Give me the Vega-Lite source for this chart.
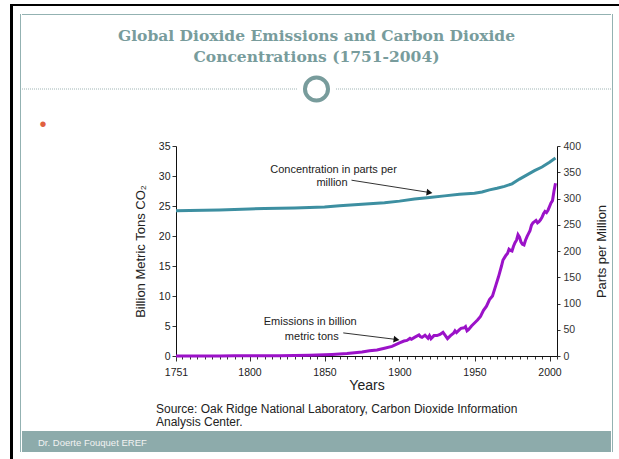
{
  "$schema": "https://vega.github.io/schema/vega-lite/v6.json",
  "background": "white",
  "padding": {"left": 10, "top": 4, "right": 0, "bottom": 0},
  "config": {"view": {"stroke": null}, "font": "Liberation Sans"},
  "datasets": {
    "blank": [{}],
    "emissions": [
      {"year": 1751, "value": 0.01}, {"year": 1760, "value": 0.01}, {"year": 1770, "value": 0.015},
      {"year": 1780, "value": 0.02}, {"year": 1790, "value": 0.025}, {"year": 1800, "value": 0.03},
      {"year": 1810, "value": 0.04}, {"year": 1820, "value": 0.05}, {"year": 1830, "value": 0.09},
      {"year": 1840, "value": 0.13}, {"year": 1850, "value": 0.2}, {"year": 1855, "value": 0.26},
      {"year": 1860, "value": 0.33}, {"year": 1865, "value": 0.42}, {"year": 1870, "value": 0.54},
      {"year": 1875, "value": 0.68}, {"year": 1880, "value": 0.86}, {"year": 1885, "value": 1.0},
      {"year": 1890, "value": 1.3}, {"year": 1895, "value": 1.6}, {"year": 1900, "value": 2.2},
      {"year": 1903, "value": 2.5}, {"year": 1905, "value": 2.6}, {"year": 1907, "value": 2.95},
      {"year": 1908, "value": 2.8}, {"year": 1910, "value": 3.1}, {"year": 1913, "value": 3.5},
      {"year": 1914, "value": 3.2}, {"year": 1915, "value": 3.1}, {"year": 1917, "value": 3.45},
      {"year": 1919, "value": 2.95}, {"year": 1920, "value": 3.4}, {"year": 1921, "value": 2.9},
      {"year": 1923, "value": 3.4}, {"year": 1925, "value": 3.4}, {"year": 1927, "value": 3.6},
      {"year": 1929, "value": 3.95}, {"year": 1930, "value": 3.6}, {"year": 1932, "value": 2.9},
      {"year": 1934, "value": 3.4}, {"year": 1936, "value": 3.8}, {"year": 1937, "value": 4.2},
      {"year": 1938, "value": 3.9}, {"year": 1940, "value": 4.4}, {"year": 1941, "value": 4.6},
      {"year": 1943, "value": 4.7}, {"year": 1944, "value": 4.9}, {"year": 1945, "value": 4.2},
      {"year": 1946, "value": 4.4}, {"year": 1948, "value": 5.0}, {"year": 1950, "value": 5.5},
      {"year": 1952, "value": 6.0}, {"year": 1954, "value": 6.6}, {"year": 1956, "value": 7.6},
      {"year": 1958, "value": 8.3}, {"year": 1960, "value": 9.4}, {"year": 1962, "value": 10.0},
      {"year": 1964, "value": 11.6}, {"year": 1966, "value": 13.2}, {"year": 1968, "value": 15.0},
      {"year": 1969, "value": 16.0}, {"year": 1970, "value": 16.4}, {"year": 1971, "value": 16.8},
      {"year": 1972, "value": 17.1}, {"year": 1973, "value": 17.8}, {"year": 1974, "value": 17.6},
      {"year": 1975, "value": 17.5}, {"year": 1976, "value": 18.3}, {"year": 1977, "value": 18.9},
      {"year": 1978, "value": 19.3}, {"year": 1979, "value": 20.2}, {"year": 1980, "value": 19.8},
      {"year": 1981, "value": 19.0}, {"year": 1982, "value": 18.6}, {"year": 1983, "value": 18.5},
      {"year": 1984, "value": 19.3}, {"year": 1985, "value": 19.9}, {"year": 1986, "value": 20.4},
      {"year": 1987, "value": 20.9}, {"year": 1988, "value": 21.8}, {"year": 1989, "value": 22.2},
      {"year": 1990, "value": 22.4}, {"year": 1991, "value": 22.6}, {"year": 1992, "value": 22.2},
      {"year": 1993, "value": 22.4}, {"year": 1994, "value": 22.7}, {"year": 1995, "value": 23.1},
      {"year": 1996, "value": 23.7}, {"year": 1997, "value": 24.1}, {"year": 1998, "value": 23.9},
      {"year": 1999, "value": 24.3}, {"year": 2000, "value": 24.9}, {"year": 2001, "value": 25.5},
      {"year": 2002, "value": 25.9}, {"year": 2003, "value": 27.5}, {"year": 2004, "value": 28.8}
    ],
    "concentration": [
      {"year": 1751, "ppm": 276.5}, {"year": 1760, "ppm": 277}, {"year": 1770, "ppm": 277.5}, {"year": 1780, "ppm": 278},
      {"year": 1790, "ppm": 279}, {"year": 1800, "ppm": 280}, {"year": 1810, "ppm": 281}, {"year": 1820, "ppm": 281.5},
      {"year": 1830, "ppm": 282}, {"year": 1840, "ppm": 283}, {"year": 1850, "ppm": 284}, {"year": 1860, "ppm": 286},
      {"year": 1870, "ppm": 288}, {"year": 1880, "ppm": 290}, {"year": 1890, "ppm": 292}, {"year": 1900, "ppm": 295},
      {"year": 1910, "ppm": 299}, {"year": 1920, "ppm": 302}, {"year": 1930, "ppm": 305}, {"year": 1940, "ppm": 308},
      {"year": 1950, "ppm": 310}, {"year": 1955, "ppm": 312.5}, {"year": 1960, "ppm": 316.5}, {"year": 1965, "ppm": 319.5},
      {"year": 1970, "ppm": 323}, {"year": 1975, "ppm": 328}, {"year": 1980, "ppm": 337}, {"year": 1985, "ppm": 345},
      {"year": 1990, "ppm": 353}, {"year": 1995, "ppm": 360}, {"year": 2000, "ppm": 369}, {"year": 2004, "ppm": 377}
    ],
    "annotations": [
      {"year": 1856, "value": 31.0, "text": "Concentration in parts per"},
      {"year": 1855, "value": 28.8, "text": "million"},
      {"year": 1840.5, "value": 5.7, "text": "Emissions in billion"},
      {"year": 1841.5, "value": 3.2, "text": "metric tons"}
    ],
    "arrows": [
      {"year": 1868, "value": 29.3, "year2": 1920, "value2": 27.25},
      {"year": 1862.5, "value": 3.85, "year2": 1898, "value2": 2.75}
    ],
    "arrowheads": [
      {"year": 1920, "value": 27.25},
      {"year": 1898, "value": 2.75}
    ]
  },
  "spacing": 0,
  "vconcat": [
    {
      "width": 609, "height": 2,
      "data": {"name": "blank"},
      "mark": {"type": "point", "opacity": 0, "size": 0},
      "encoding": {},
      "view": {"fill": "black", "stroke": null}
    },
    {
      "spacing": 7,
      "hconcat": [
        {
          "width": 3, "height": 453,
          "data": {"name": "blank"},
          "mark": {"type": "point", "opacity": 0, "size": 0},
          "encoding": {},
          "view": {"fill": "black", "stroke": null}
        },
        {
          "spacing": 0,
          "vconcat": [
            {
              "width": 1, "height": 8,
              "data": {"name": "blank"},
              "mark": {"type": "point", "opacity": 0, "size": 0},
              "encoding": {}
            },
            {
              "spacing": 0,
              "hconcat": [
                {
                  "width": 1, "height": 438,
                  "data": {"name": "blank"},
                  "mark": {"type": "point", "opacity": 0, "size": 0},
                  "encoding": {},
                  "view": {"fill": "#93B2B2", "stroke": null}
                },
                {
                  "spacing": 0,
                  "vconcat": [
                    {
                      "width": 589, "height": 1,
                      "data": {"name": "blank"},
                      "mark": {"type": "point", "opacity": 0, "size": 0},
                      "encoding": {},
                      "view": {"fill": "#93B2B2", "stroke": null}
                    },
                    {
                      "width": 1, "height": 13,
                      "data": {"name": "blank"},
                      "mark": {"type": "point", "opacity": 0, "size": 0},
                      "encoding": {}
                    },
                    {
                      "width": 589, "height": 26,
                      "title": {
                        "text": ["Global Dioxide Emissions and Carbon Dioxide", "Concentrations (1751-2004)"],
                        "font": "DejaVu Serif", "fontSize": 15.5, "fontWeight": "bold",
                        "color": "#789C9C", "lineHeight": 21, "anchor": "middle", "frame": "group", "offset": 4
                      },
                      "data": {"name": "blank"},
                      "layer": [
                        {
                          "mark": {"type": "rule", "color": "#9FB4B4", "strokeDash": [1, 1], "strokeWidth": 1},
                          "encoding": {"y": {"datum": 0, "type": "quantitative", "scale": {"domain": [-1, 1]}, "axis": null}}
                        },
                        {
                          "mark": {"type": "point", "shape": "circle", "size": 1400, "filled": true, "fill": "white", "strokeWidth": 0, "opacity": 1},
                          "encoding": {"y": {"datum": 0, "type": "quantitative"}}
                        },
                        {
                          "mark": {"type": "point", "shape": "circle", "size": 531, "filled": true, "fill": "white", "stroke": "#789C9C", "strokeWidth": 4, "opacity": 1},
                          "encoding": {"y": {"datum": 0, "type": "quantitative"}}
                        }
                      ]
                    },
                    {
                      "width": 1, "height": 4.7,
                      "data": {"name": "blank"},
                      "mark": {"type": "point", "opacity": 0, "size": 0},
                      "encoding": {}
                    },
                    {
                      "spacing": 0,
                      "hconcat": [
                        {
                          "width": 111.5, "height": 210,
                          "data": {"name": "blank"},
                          "mark": {"type": "point", "opacity": 0, "size": 0},
                          "encoding": {},
                          "title": {"text": "•", "fontSize": 20, "color": "#E0603F", "anchor": "start", "frame": "group", "dx": 17.5, "offset": 11.5, "font": "Liberation Sans", "fontWeight": "normal"}
                        },
                        {
                          "width": 381, "height": 210,
                          "title": {
                            "text": ["Source: Oak Ridge National Laboratory, Carbon Dioxide Information", "Analysis Center."],
                            "orient": "bottom", "anchor": "start", "frame": "group", "dx": -20, "offset": 11,
                            "fontSize": 12, "fontWeight": "normal", "color": "#222222", "lineHeight": 13.5, "font": "Liberation Sans"
                          },
                          "encoding": {
                            "x": {
                              "field": "year", "type": "quantitative",
                              "scale": {"domain": [1751, 2005], "nice": false, "zero": false},
                              "axis": {
                                "title": "Years", "format": "d",
                                "values": [1751,1755,1760,1765,1770,1775,1780,1785,1790,1795,1800,1805,1810,1815,1820,1825,1830,1835,1840,1845,1850,1855,1860,1865,1870,1875,1880,1885,1890,1895,1900,1905,1910,1915,1920,1925,1930,1935,1940,1945,1950,1955,1960,1965,1970,1975,1980,1985,1990,1995,2000,2005],
                                "labelExpr": "indexof([1751,1800,1850,1900,1950,2000], datum.value) >= 0 ? datum.label : ''",
                                "tickSize": {"condition": {"test": "indexof([1751,1800,1850,1900,1950,2000], datum.value) >= 0", "value": 5}, "value": 3},
                                "labelOverlap": false, "labelFlush": false, "labelFontSize": 10.5, "labelColor": "#222222",
                                "labelPadding": 6, "tickColor": "#333333", "domainColor": "#111111", "grid": false,
                                "titleFontSize": 14, "titleFontWeight": "normal", "titleColor": "#222222", "titlePadding": 1
                              }
                            }
                          },
                          "layer": [
                            {
                              "encoding": {
                                "y": {
                                  "field": "value", "type": "quantitative",
                                  "scale": {"domain": [0, 35], "nice": false},
                                  "axis": {
                                    "title": "Billion Metric Tons CO₂", "values": [0,5,10,15,20,25,30,35],
                                    "tickSize": 4, "labelPadding": 2, "labelFontSize": 10.5, "labelColor": "#222222",
                                    "domainColor": "#111111", "tickColor": "#333333", "grid": false,
                                    "titleFontSize": 13, "titleFontWeight": "normal", "titleColor": "#222222", "titlePadding": 10.5
                                  }
                                }
                              },
                              "layer": [
                                {
                                  "data": {"name": "emissions"},
                                  "mark": {"type": "line", "color": "#9B12C8", "strokeWidth": 3}
                                },
                                {
                                  "data": {"name": "annotations"},
                                  "mark": {"type": "text", "fontSize": 11, "color": "#222222", "font": "Liberation Sans", "align": "center", "baseline": "middle"},
                                  "encoding": {"text": {"field": "text"}}
                                },
                                {
                                  "data": {"name": "arrows"},
                                  "mark": {"type": "rule", "color": "#333333", "strokeWidth": 1},
                                  "encoding": {"x2": {"field": "year2"}, "y2": {"field": "value2"}}
                                },
                                {
                                  "data": {"name": "arrowheads"},
                                  "mark": {"type": "point", "shape": "triangle-right", "size": 45, "filled": true, "color": "#111111", "opacity": 1, "angle": 8}
                                }
                              ]
                            },
                            {
                              "data": {"name": "concentration"},
                              "mark": {"type": "line", "color": "#3D8FA1", "strokeWidth": 3},
                              "encoding": {
                                "y": {
                                  "field": "ppm", "type": "quantitative",
                                  "scale": {"domain": [0, 400], "nice": false},
                                  "axis": {
                                    "orient": "right", "title": "Parts per Million", "values": [0,50,100,150,200,250,300,350,400],
                                    "tickSize": 3, "labelPadding": 3, "labelFontSize": 10.5, "labelColor": "#333333",
                                    "domainColor": "#111111", "tickColor": "#333333", "grid": false,
                                    "titleFontSize": 13, "titleFontWeight": "normal", "titleColor": "#222222",
                                    "titleAngle": 270, "titleBaseline": "top", "titlePadding": 15
                                  }
                                }
                              }
                            }
                          ],
                          "resolve": {"scale": {"y": "independent"}}
                        }
                      ]
                    },
                    {
                      "width": 1, "height": 2.5,
                      "data": {"name": "blank"},
                      "mark": {"type": "point", "opacity": 0, "size": 0},
                      "encoding": {}
                    },
                    {
                      "width": 589, "height": 21,
                      "data": {"name": "blank"},
                      "mark": {"type": "point", "opacity": 0, "size": 0},
                      "encoding": {},
                      "view": {"fill": "#8DABAB", "stroke": null},
                      "title": {"text": "Dr. Doerte Fouquet EREF", "orient": "top", "anchor": "start", "frame": "group", "dx": 16, "offset": -16, "fontSize": 9.5, "fontWeight": "normal", "color": "#F2F2F2", "font": "Liberation Sans"}
                    }
                  ]
                },
                {
                  "width": 1, "height": 438,
                  "data": {"name": "blank"},
                  "mark": {"type": "point", "opacity": 0, "size": 0},
                  "encoding": {},
                  "view": {"fill": "#93B2B2", "stroke": null}
                }
              ]
            }
          ]
        }
      ]
    }
  ]
}
